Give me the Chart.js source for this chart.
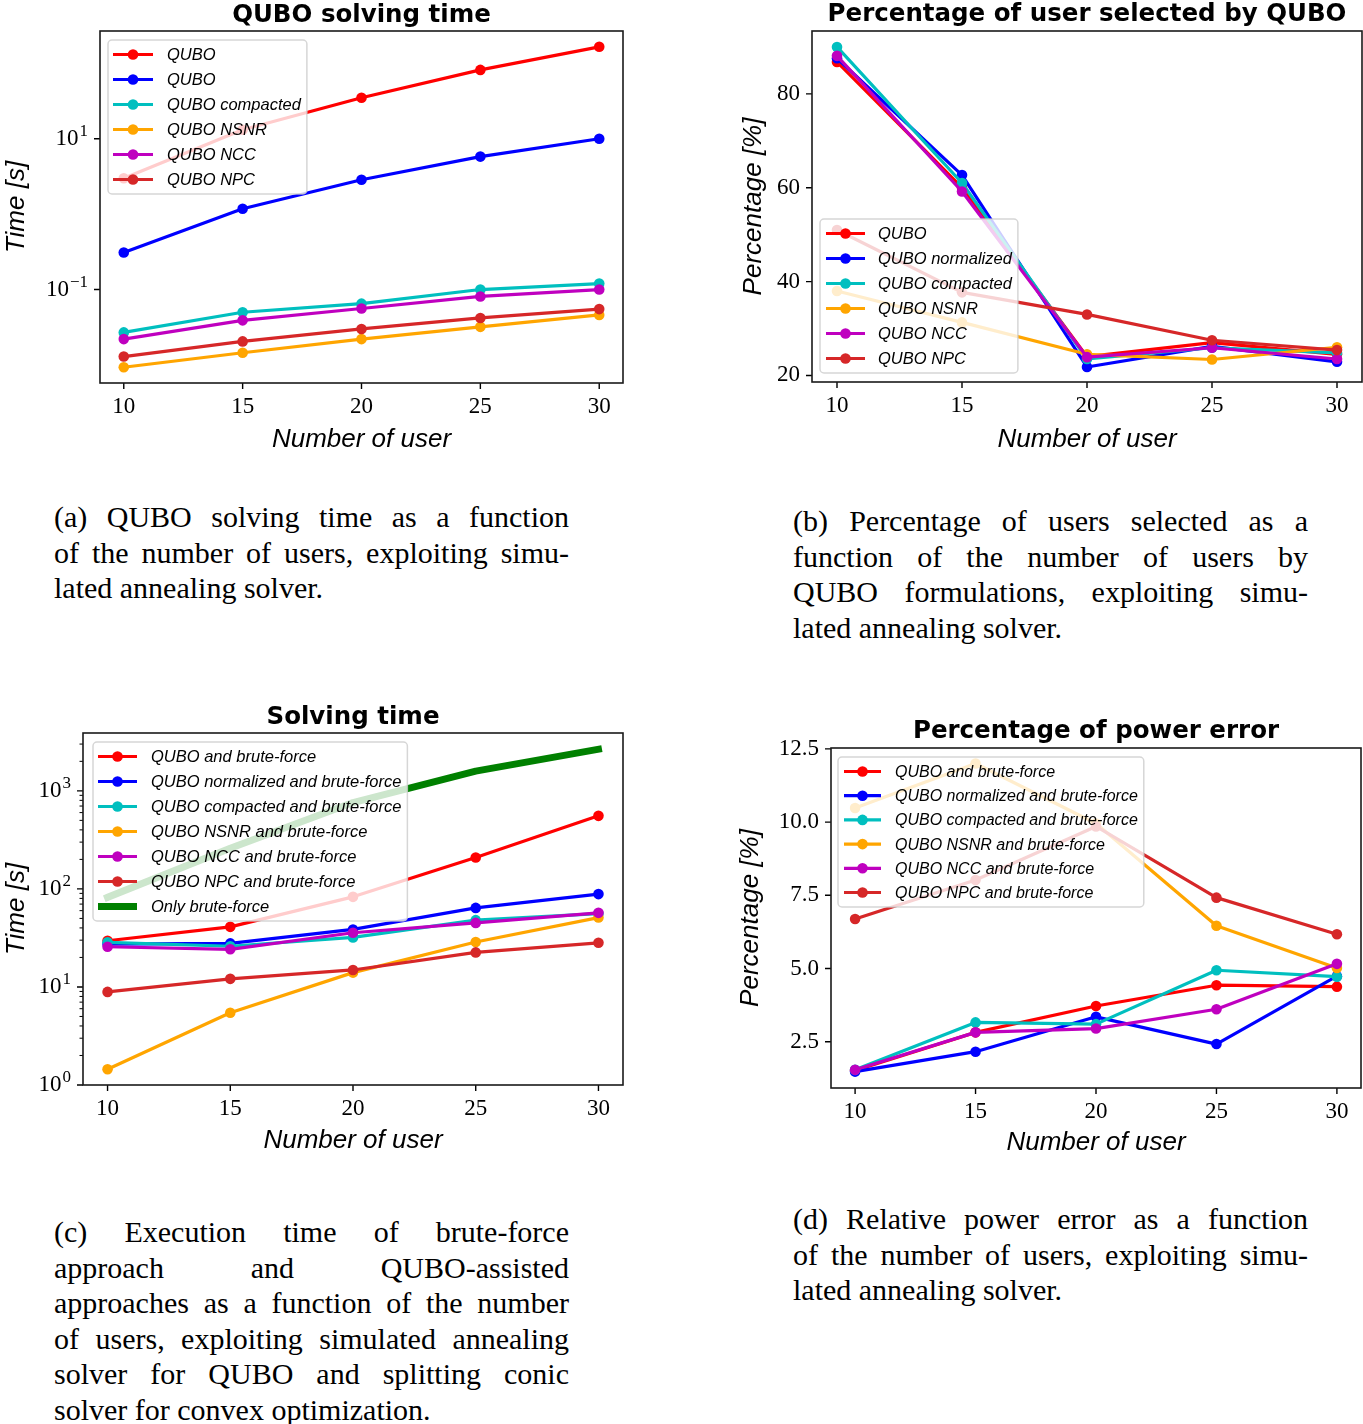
<!DOCTYPE html>
<html lang="en">
<head>
<meta charset="UTF-8" />
<title>QUBO simulated annealing results</title>
<script src="https://cdn.jsdelivr.net/npm/chart.js"></script>
<style>
  body {
    margin: 0;
    background: #fff;
    width: 1363px;
    height: 1424px;
    position: relative;
    overflow: hidden;
  }
  canvas { position: absolute; }
  .cap {
    position: absolute;
    width: 515px;
    font-family: "Liberation Serif", serif;
    font-size: 30px;
    line-height: 35.5px;
    color: #000;
  }
  .cap .j { text-align: justify; text-align-last: justify; }
</style>
</head>
<body>

<canvas id="chartA" width="640" height="460" style="left:0;top:0"></canvas>
<canvas id="chartB" width="680" height="460" style="left:700px;top:0"></canvas>
<canvas id="chartC" width="640" height="470" style="left:0;top:690px"></canvas>
<canvas id="chartD" width="680" height="470" style="left:700px;top:690px"></canvas>

<div class="cap" style="left:54px;top:499px">
  <div class="j">(a) QUBO solving time as a function</div>
  <div class="j">of the number of users, exploiting simu-</div>
  <div>lated annealing solver.</div>
</div>
<div class="cap" style="left:793px;top:503px">
  <div class="j">(b) Percentage of users selected as a</div>
  <div class="j">function of the number of users by</div>
  <div class="j">QUBO formulations, exploiting simu-</div>
  <div>lated annealing solver.</div>
</div>
<div class="cap" style="left:54px;top:1214px">
  <div class="j">(c) Execution time of brute-force</div>
  <div class="j">approach and QUBO-assisted</div>
  <div class="j">approaches as a function of the number</div>
  <div class="j">of users, exploiting simulated annealing</div>
  <div class="j">solver for QUBO and splitting conic</div>
  <div>solver for convex optimization.</div>
</div>
<div class="cap" style="left:793px;top:1201px">
  <div class="j">(d) Relative power error as a function</div>
  <div class="j">of the number of users, exploiting simu-</div>
  <div>lated annealing solver.</div>
</div>

<script>
// x values, shared by all four plots
const users = [10, 15, 20, 25, 30];
const xTicks = [10, 15, 20, 25, 30];

// (a) QUBO solving time [s]
const labelsA = ['QUBO', 'QUBO', 'QUBO compacted', 'QUBO NSNR', 'QUBO NCC', 'QUBO NPC'];
const timeQubo = [3.0, 13.2, 35, 82, 166];
const timeNormalized = [0.31, 1.18, 2.86, 5.8, 10.0];
const timeCompacted = [0.027, 0.050, 0.065, 0.10, 0.12];
const timeNsnr = [0.0093, 0.0145, 0.022, 0.032, 0.046];
const timeNcc = [0.022, 0.039, 0.056, 0.081, 0.10];
const timeNpc = [0.0129, 0.0205, 0.030, 0.042, 0.055];
const yTicksA = [0.1, 10];

// (b) percentage of users selected
const labelsB = ['QUBO', 'QUBO normalized', 'QUBO compacted', 'QUBO NSNR', 'QUBO NCC', 'QUBO NPC'];
const selQubo = [86.8, 60, 24, 27, 24.5];
const selNormalized = [87.6, 62.7, 21.8, 26.2, 22.9];
const selCompacted = [90, 61, 23.5, 25.9, 24.8];
const selNsnr = [38, 31.3, 24.5, 23.4, 26];
const selNcc = [88.1, 59.2, 23.9, 25.9, 23.5];
const selNpc = [51, 37.7, 33.0, 27.5, 25.4];
const yTicksB = [20, 40, 60, 80];

// (c) solving time with brute-force [s]
const labelsC = ['QUBO and brute-force', 'QUBO normalized and brute-force', 'QUBO compacted and brute-force',
  'QUBO NSNR and brute-force', 'QUBO NCC and brute-force', 'QUBO NPC and brute-force', 'Only brute-force'];
const bfQubo = [29.6, 41, 83, 209, 556];
const bfNormalized = [27.4, 27.8, 38.6, 64, 88.5];
const bfCompacted = [28.5, 26, 32, 48, 56];
const bfNsnr = [1.45, 5.45, 14, 28.7, 51];
const bfNcc = [25.7, 24.2, 35.7, 45, 57];
const bfNpc = [8.9, 12.1, 14.9, 22.5, 28.2];
const bfOnly = [82, 260, 760, 1590, 2660];
const yMajorC = [1, 10, 100, 1000];

// (d) percentage of power error
const labelsD = labelsC.slice(0, 6);
const errQubo = [1.52, 2.82, 3.72, 4.43, 4.38];
const errNormalized = [1.48, 2.16, 3.35, 2.42, 4.74];
const errCompacted = [1.54, 3.16, 3.1, 4.94, 4.72];
const errNsnr = [10.48, 12.0, 9.95, 6.46, 5.02];
const errNcc = [1.54, 2.82, 2.95, 3.61, 5.16];
const errNpc = [6.69, 8.02, 9.85, 7.42, 6.17];
const yTicksD = [2.5, 5.0, 7.5, 10.0, 12.5];

const colors = ['#ff0000', '#0000ff', '#00bfbf', '#ffa500', '#bf00bf', '#d62728', '#008000'];

const serif = '"Liberation Serif", serif';
const sans = '"Liberation Sans", sans-serif';

function series(label, values, i, extra) {
  return Object.assign({
    label: label,
    data: users.map((u, k) => ({ x: u, y: values[k] })),
    borderColor: colors[i],
    backgroundColor: colors[i],
    pointBackgroundColor: colors[i],
    borderWidth: 3.2,
    pointRadius: 5.3,
    pointBorderWidth: 0,
    borderJoinStyle: 'round',
    tension: 0,
    fill: false,
    order: -i
  }, extra || {});
}

// frame, tick marks, log labels, titles and the in-axes legend (matplotlib look)
const decor = {
  id: 'decor',
  afterDatasetsDraw(chart, args, o) {
    const ctx = chart.ctx, a = chart.chartArea;
    const xs = chart.scales.x, ys = chart.scales.y;
    ctx.save();

    // tick marks
    ctx.strokeStyle = '#000';
    ctx.lineWidth = 1.4;
    ctx.beginPath();
    xs.ticks.forEach(t => {
      const px = xs.getPixelForValue(t.value);
      ctx.moveTo(px, a.bottom); ctx.lineTo(px, a.bottom + 6);
    });
    ys.ticks.filter(t => !t.minor).forEach(t => {
      const py = ys.getPixelForValue(t.value);
      ctx.moveTo(a.left, py); ctx.lineTo(a.left - 6, py);
    });
    ctx.stroke();
    ctx.lineWidth = 1;
    ctx.beginPath();
    ys.ticks.filter(t => t.minor).forEach(t => {
      const py = ys.getPixelForValue(t.value);
      ctx.moveTo(a.left, py); ctx.lineTo(a.left - 3.5, py);
    });
    ctx.stroke();

    // frame
    ctx.strokeStyle = '#1a1a1a';
    ctx.lineWidth = 1.6;
    ctx.strokeRect(a.left, a.top, a.right - a.left, a.bottom - a.top);

    ctx.fillStyle = '#000';
    // 10^n labels for log axes
    if (o.log) {
      ys.ticks.filter(t => !t.minor).forEach(t => {
        const py = ys.getPixelForValue(t.value);
        const e = Math.round(Math.log10(t.value));
        const sup = (e < 0 ? '\u2212' : '') + Math.abs(e);
        ctx.font = '23px ' + serif;
        const wb = ctx.measureText('10').width;
        ctx.font = '17px ' + serif;
        const ws = ctx.measureText(sup).width;
        const right = a.left - 12;
        ctx.textAlign = 'left';
        ctx.textBaseline = 'alphabetic';
        ctx.font = '23px ' + serif;
        ctx.fillText('10', right - ws - wb - 1, py + 6);
        ctx.font = '17px ' + serif;
        ctx.fillText(sup, right - ws, py - 3);
      });
    }

    // titles
    const cx = (a.left + a.right) / 2, cy = (a.top + a.bottom) / 2;
    ctx.textAlign = 'center';
    ctx.textBaseline = 'alphabetic';
    ctx.font = 'bold 24.5px "DejaVu Sans", sans-serif';
    ctx.fillText(o.title, cx, a.top - o.titleGap);
    ctx.font = 'italic 26px ' + sans;
    ctx.fillText(o.xTitle, cx, a.bottom + o.xTitleGap);
    ctx.save();
    ctx.translate(a.left - o.yTitleGap, cy);
    ctx.rotate(-Math.PI / 2);
    ctx.fillText(o.yTitle, 0, 0);
    ctx.restore();

    // legend
    const lg = o.legend;
    const sets = chart.data.datasets;
    ctx.font = 'italic ' + lg.size + 'px ' + sans;
    const tw = Math.max(...sets.map(d => ctx.measureText(d.label).width));
    const w = lg.textX + tw + 6;
    const h = 29 + lg.row * (sets.length - 1);
    const x0 = a.left + lg.dx;
    const y0 = lg.lower ? a.bottom - lg.dy - h : a.top + lg.dy;
    ctx.beginPath();
    ctx.roundRect(x0, y0, w, h, 4);
    ctx.fillStyle = 'rgba(255,255,255,0.8)';
    ctx.fill();
    ctx.strokeStyle = 'rgba(204,204,204,0.8)';
    ctx.lineWidth = 1.5;
    ctx.stroke();
    sets.forEach((d, i) => {
      const y = y0 + 14.5 + i * lg.row;
      ctx.strokeStyle = d.borderColor;
      ctx.lineWidth = d.borderWidth;
      ctx.beginPath();
      ctx.moveTo(x0 + lg.h0, y); ctx.lineTo(x0 + lg.h1, y);
      ctx.stroke();
      if (d.pointRadius) {
        ctx.beginPath();
        ctx.arc(x0 + (lg.h0 + lg.h1) / 2, y, d.pointRadius, 0, 2 * Math.PI);
        ctx.fillStyle = d.borderColor;
        ctx.fill();
      }
      ctx.fillStyle = '#000';
      ctx.textAlign = 'left';
      ctx.textBaseline = 'middle';
      ctx.fillText(d.label, x0 + lg.textX, y + 1);
    });
    ctx.restore();
  }
};

function makeChart(id, datasets, cfg) {
  const yScale = cfg.yLog ? {
    type: 'logarithmic',
    min: cfg.yMin, max: cfg.yMax,
    afterBuildTicks: cfg.yBuild,
    ticks: { display: false },
    grid: { display: false, drawTicks: true, tickLength: 6 },
    border: { display: false },
    afterFit: s => { s.width = cfg.yWidth; }
  } : {
    type: 'linear',
    min: cfg.yMin, max: cfg.yMax,
    afterBuildTicks: cfg.yBuild,
    ticks: {
      font: { family: serif, size: 23 }, color: '#000', padding: 6,
      autoSkip: false, callback: cfg.yFormat
    },
    grid: { display: false, drawTicks: true, tickLength: 6 },
    border: { display: false },
    afterFit: s => { s.width = cfg.yWidth; }
  };

  return new Chart(document.getElementById(id), {
    type: 'line',
    data: { datasets: datasets },
    options: {
      responsive: false,
      animation: false,
      events: [],
      layout: { padding: cfg.pad },
      plugins: {
        legend: { display: false },
        tooltip: { enabled: false },
        decor: cfg.decor
      },
      scales: {
        x: {
          type: 'linear',
          min: 9, max: 31,
          afterBuildTicks: s => { s.ticks = xTicks.map(v => ({ value: v })); },
          ticks: {
            font: { family: serif, size: 23 }, color: '#000', padding: 4,
            autoSkip: false, maxRotation: 0, minRotation: 0
          },
          grid: { display: false, drawTicks: true, tickLength: 6 },
          border: { display: false },
          afterFit: s => { s.height = 40; }
        },
        y: yScale
      }
    },
    plugins: [decor]
  });
}

// (a)
makeChart('chartA', [
  series(labelsA[0], timeQubo, 0),
  series(labelsA[1], timeNormalized, 1),
  series(labelsA[2], timeCompacted, 2),
  series(labelsA[3], timeNsnr, 3),
  series(labelsA[4], timeNcc, 4),
  series(labelsA[5], timeNpc, 5)
], {
  pad: { left: 0, right: 17, top: 31, bottom: 37 },
  yWidth: 100, yLog: true,
  yMin: Math.pow(10, -2.24), yMax: Math.pow(10, 2.43),
  yBuild: s => { s.ticks = yTicksA.map(v => ({ value: v })); },
  decor: {
    title: 'QUBO solving time', titleGap: 9,
    xTitle: 'Number of user', xTitleGap: 64,
    yTitle: 'Time [s]', yTitleGap: 76, log: true,
    legend: { dx: 8, dy: 9, row: 25, size: 16.5, h0: 5, h1: 45, textX: 59 }
  }
});

// (b)
makeChart('chartB', [
  series(labelsB[0], selQubo, 0),
  series(labelsB[1], selNormalized, 1),
  series(labelsB[2], selCompacted, 2),
  series(labelsB[3], selNsnr, 3),
  series(labelsB[4], selNcc, 4),
  series(labelsB[5], selNpc, 5)
], {
  pad: { left: 0, right: 18, top: 31, bottom: 38 },
  yWidth: 112,
  yMin: 18.6, yMax: 93.4,
  yBuild: s => { s.ticks = yTicksB.map(v => ({ value: v })); },
  yFormat: v => String(v),
  decor: {
    title: 'Percentage of user selected by QUBO', titleGap: 10,
    xTitle: 'Number of user', xTitleGap: 65,
    yTitle: 'Percentage [%]', yTitleGap: 51,
    legend: { dx: 8, dy: 9, lower: true, row: 25, size: 16.5, h0: 6, h1: 45, textX: 58 }
  }
});

// (c)
makeChart('chartC', [
  series(labelsC[0], bfQubo, 0),
  series(labelsC[1], bfNormalized, 1),
  series(labelsC[2], bfCompacted, 2),
  series(labelsC[3], bfNsnr, 3),
  series(labelsC[4], bfNcc, 4),
  series(labelsC[5], bfNpc, 5),
  series(labelsC[6], bfOnly, 6, { borderWidth: 7, pointRadius: 0, borderCapStyle: 'square' })
], {
  pad: { left: 0, right: 17, top: 43, bottom: 35 },
  yWidth: 83, yLog: true,
  yMin: 1, yMax: Math.pow(10, 3.59),
  yBuild: s => {
    const ticks = [];
    yMajorC.forEach(base => {
      for (let m = 1; m <= 9; m++) {
        const v = base * m;
        if (v >= s.min && v <= s.max) ticks.push({ value: v, minor: m > 1 });
      }
    });
    s.ticks = ticks;
  },
  decor: {
    title: 'Solving time', titleGap: 9,
    xTitle: 'Number of user', xTitleGap: 63,
    yTitle: 'Time [s]', yTitleGap: 59.5, log: true,
    legend: { dx: 10, dy: 9, row: 25, size: 16.5, h0: 5, h1: 44, textX: 58 }
  }
});

// (d)
makeChart('chartD', [
  series(labelsD[0], errQubo, 0),
  series(labelsD[1], errNormalized, 1),
  series(labelsD[2], errCompacted, 2),
  series(labelsD[3], errNsnr, 3),
  series(labelsD[4], errNcc, 4),
  series(labelsD[5], errNpc, 5)
], {
  pad: { left: 0, right: 19, top: 58, bottom: 32 },
  yWidth: 131,
  yMin: 0.92, yMax: 12.53,
  yBuild: s => { s.ticks = yTicksD.map(v => ({ value: v })); },
  yFormat: v => v.toFixed(1),
  decor: {
    title: 'Percentage of power error', titleGap: 10,
    xTitle: 'Number of user', xTitleGap: 62,
    yTitle: 'Percentage [%]', yTitleGap: 73,
    legend: { dx: 7, dy: 9, row: 24.2, size: 16, h0: 6, h1: 43, textX: 57 }
  }
});
</script>

</body>
</html>
